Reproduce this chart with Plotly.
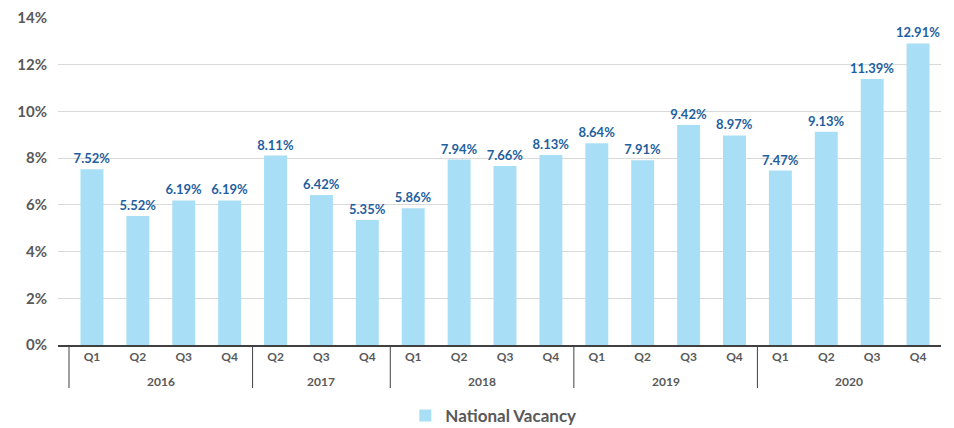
import plotly.graph_objects as go

years = ["2016"] * 4 + ["2017"] * 3 + ["2018"] * 4 + ["2019"] * 4 + ["2020"] * 4
quarters = ["Q1", "Q2", "Q3", "Q4",
            "Q2", "Q3", "Q4",
            "Q1", "Q2", "Q3", "Q4",
            "Q1", "Q2", "Q3", "Q4",
            "Q1", "Q2", "Q3", "Q4"]
vacancy = [7.52, 5.52, 6.19, 6.19,
           8.11, 6.42, 5.35,
           5.86, 7.94, 7.66, 8.13,
           8.64, 7.91, 9.42, 8.97,
           7.47, 9.13, 11.39, 12.91]
series_name = "National Vacancy"

FONT = "Lato, 'Open Sans', sans-serif"
GRAY = "#595959"
DARK = "#404040"

idx = list(range(len(vacancy)))

W, H = 946, 420
M_L, M_R, M_T, M_B = 50, 13, 10, 83
plot_h = H - M_T - M_B

fig = go.Figure()
fig.add_trace(go.Bar(
    x=idx,
    y=vacancy,
    name=series_name,
    marker=dict(color="#a9dff6", line=dict(width=0)),
    text=[f"{v:.2f}%" for v in vacancy],
    textposition="outside",
    constraintext="none",
    cliponaxis=False,
    textfont=dict(family=FONT, size=13, color="#1f5f9f", weight="bold"),
    showlegend=True,
    hovertext=[f"{y} {q}" for y, q in zip(years, quarters)],
))

# group boundaries and centers derived from the year list
groups = []
start = 0
for i in range(1, len(years) + 1):
    if i == len(years) or years[i] != years[start]:
        groups.append((years[start], start, i - 1))
        start = i

div_len = 43 / plot_h
for name, a, b in groups:
    fig.add_annotation(x=(a + b) / 2, y=-36 / plot_h, xref="x", yref="paper",
                       text=name, showarrow=False, yanchor="middle",
                       font=dict(family=FONT, size=12, color=GRAY, weight="bold"))
    fig.add_shape(type="line", xref="x", yref="paper", x0=a - 0.5, x1=a - 0.5,
                  y0=0, y1=-div_len, line=dict(color=DARK, width=1))

fig.update_layout(
    width=W, height=H,
    margin=dict(l=M_L, r=M_R, t=M_T, b=M_B, autoexpand=False),
    plot_bgcolor="white", paper_bgcolor="white",
    bargap=0.5,
    font=dict(family=FONT, color=GRAY),
    showlegend=True,
    legend=dict(orientation="h", x=0.493, xanchor="center",
                yref="container", y=12 / H, yanchor="middle",
                font=dict(family=FONT, size=17, color=GRAY, weight="bold")),
    xaxis=dict(
        range=[-0.74, len(vacancy) - 0.5],
        tickmode="array", tickvals=idx, ticktext=quarters,
        showline=True, linecolor=DARK, linewidth=1.5,
        showgrid=False, ticks="", zeroline=False,
        tickfont=dict(family=FONT, size=12, color=GRAY, weight="bold"),
        automargin=False,
    ),
    yaxis=dict(
        range=[0, 14], dtick=2, ticksuffix="%",
        showgrid=True, gridcolor="#d9d9d9", gridwidth=1,
        zeroline=False, showline=False, ticks="",
        tickfont=dict(family=FONT, size=15, color=GRAY, weight="bold"),
        ticklabelstandoff=10,
        automargin=False,
    ),
)

fig.write_html("out.html")
